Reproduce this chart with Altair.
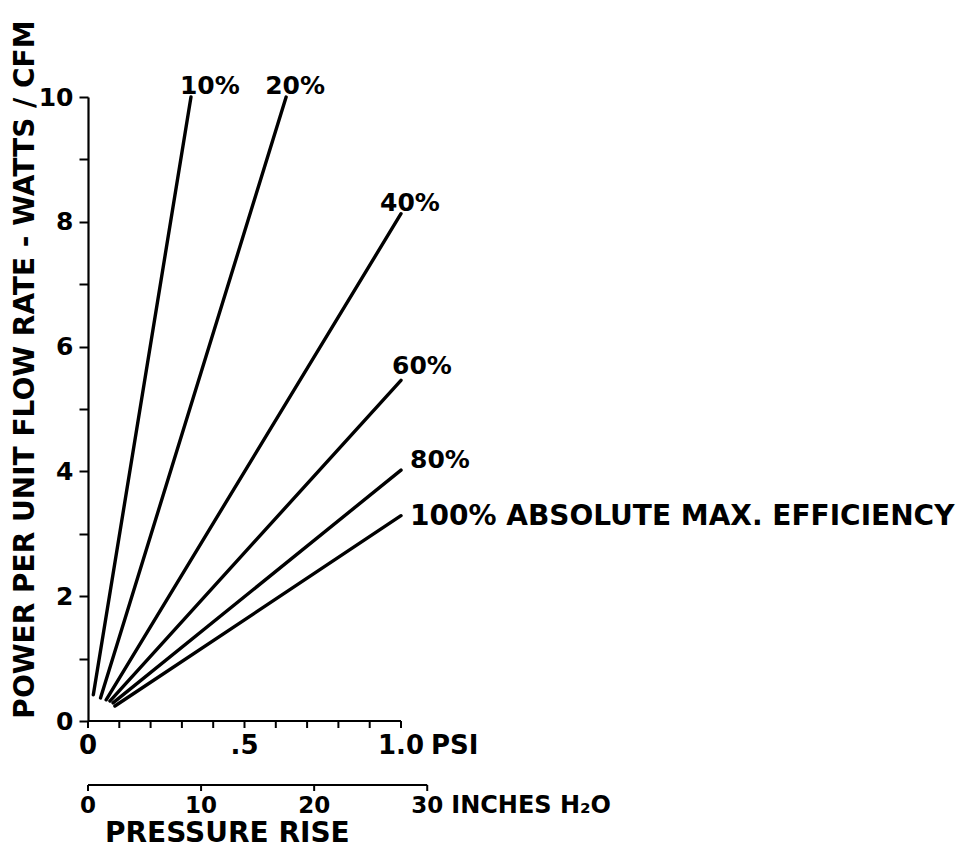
import altair as alt
import pandas as pd

# ---------------- data ----------------
efficiency = ["10%", "20%", "40%", "60%", "80%", "100%"]
start_psi = [0.017, 0.040, 0.058, 0.070, 0.080, 0.086]
start_power = [0.42, 0.37, 0.34, 0.32, 0.29, 0.24]
end_psi = [0.329, 0.633, 1.0, 1.0, 1.0, 1.0]
end_power = [10.0, 10.0, 8.13, 5.46, 4.02, 3.29]
label_text = ["10%", "20%", "40%", "60%", "80%", "100% ABSOLUTE MAX. EFFICIENCY"]

psi_ticks = [0.0, 0.1, 0.2, 0.3, 0.4, 0.5, 0.6, 0.7, 0.8, 0.9, 1.0]
psi_tick_labels = ["0", "", "", "", "", ".5", "", "", "", "", "1.0"]
inch_ticks = [0, 10, 20, 30]
inch_tick_labels = ["0", "10", "20", "30"]
power_ticks = [0, 1, 2, 3, 4, 5, 6, 7, 8, 9, 10]
INCH_H2O_PER_PSI = 27.68

FONT = "DejaVu Sans"
W, H = 313, 624

lines_df = pd.DataFrame({"eff": efficiency, "x0": start_psi, "y0": start_power,
                         "x1": end_psi, "y1": end_power, "label": label_text})
psi_df = pd.DataFrame({"psi": psi_ticks, "lab": psi_tick_labels})
inch_df = pd.DataFrame({"inch": inch_ticks, "lab": inch_tick_labels})

xs = alt.Scale(domain=[0, 1.0], nice=False, zero=False)
ys = alt.Scale(domain=[0, 10], nice=False, zero=False)
y_axis = alt.Axis(values=power_ticks, labelExpr="datum.value % 2 == 0 ? datum.label : ''",
                  grid=False, tickSize=9, tickWidth=2, tickColor="black",
                  domainColor="black", domainWidth=2.2, labelPadding=6,
                  labelFont=FONT, labelFontWeight="bold", labelFontSize=25, labelColor="black",
                  title="POWER PER UNIT FLOW RATE - WATTS / CFM",
                  titleFont=FONT, titleFontWeight="bold", titleFontSize=28, titleColor="black",
                  titleX=-63, titleY=272, titleAngle=270, titleAlign="center", titleBaseline="middle")

base = alt.Chart(lines_df)

curves = base.mark_rule(color="black", strokeWidth=3.4, strokeCap="round").encode(
    x=alt.X("x0:Q", scale=xs, axis=None), x2="x1:Q",
    y=alt.Y("y0:Q", scale=ys, axis=y_axis), y2="y1:Q")

offsets = {"10%": (-11, -3, "alphabetic", 25), "20%": (-21, -3, "alphabetic", 25),
           "40%": (-21, -3, "alphabetic", 25), "60%": (-9, -6, "alphabetic", 25),
           "80%": (9, -2, "alphabetic", 25), "100%": (9, 1, "middle", 28)}
labels = []
for eff, (dx, dy, bl, fs) in offsets.items():
    labels.append(base.transform_filter(alt.datum.eff == eff).mark_text(
        align="left", baseline=bl, dx=dx, dy=dy, font=FONT, fontWeight="bold",
        fontSize=fs, color="black").encode(
        x=alt.X("x1:Q", scale=xs, axis=None), y=alt.Y("y1:Q", scale=ys, axis=y_axis),
        text="label:N"))

# ---- PSI axis (drawn at power = 0) ----
psi_base = alt.Chart(psi_df)
psi_line = psi_base.transform_aggregate(lo="min(psi)", hi="max(psi)").mark_rule(
    color="black", strokeWidth=2.2).encode(
    x=alt.X("lo:Q", scale=xs, axis=None), x2="hi:Q", y=alt.value(H))
psi_tick = psi_base.mark_rule(color="black", strokeWidth=2).encode(
    x=alt.X("psi:Q", scale=xs, axis=None), y=alt.value(H), y2=alt.value(H + 7))
psi_lab = psi_base.mark_text(baseline="alphabetic", font=FONT, fontWeight="bold",
                             fontSize=26, color="black").encode(
    x=alt.X("psi:Q", scale=xs, axis=None), y=alt.value(H + 33), text="lab:N")
psi_unit = psi_base.transform_filter(alt.datum.psi == 1.0).mark_text(
    align="left", baseline="alphabetic", dx=30, font=FONT, fontWeight="bold",
    fontSize=26, color="black").encode(
    x=alt.X("psi:Q", scale=xs, axis=None), y=alt.value(H + 33), text=alt.value("PSI"))

# ---- inches of water axis ----
IY = 688
inch_base = alt.Chart(inch_df).transform_calculate(px=f"datum.inch / {INCH_H2O_PER_PSI}")
inch_line = inch_base.transform_aggregate(lo="min(px)", hi="max(px)").mark_rule(
    color="black", strokeWidth=2.2).encode(
    x=alt.X("lo:Q", scale=xs, axis=None), x2="hi:Q", y=alt.value(IY))
inch_tick = inch_base.mark_rule(color="black", strokeWidth=2).encode(
    x=alt.X("px:Q", scale=xs, axis=None), y=alt.value(IY), y2=alt.value(IY + 6))
inch_lab = inch_base.mark_text(baseline="alphabetic", font=FONT, fontWeight="bold",
                               fontSize=23, color="black").encode(
    x=alt.X("px:Q", scale=xs, axis=None), y=alt.value(IY + 28), text="lab:N")
inch_unit = inch_base.transform_filter(alt.datum.inch == 30).mark_text(
    align="left", baseline="alphabetic", dx=24, font=FONT, fontWeight="bold",
    fontSize=24, color="black").encode(
    x=alt.X("px:Q", scale=xs, axis=None), y=alt.value(IY + 28), text=alt.value("INCHES H₂O"))
inch_title = inch_base.transform_filter(alt.datum.inch == 0).mark_text(
    align="left", baseline="alphabetic", dx=17, font=FONT, fontWeight="bold",
    fontSize=28, color="black").encode(
    x=alt.X("px:Q", scale=xs, axis=None), y=alt.value(IY + 57), text=alt.value("PRESSURE RISE"))

chart = alt.layer(curves, *labels, psi_line, psi_tick, psi_lab, psi_unit,
                  inch_line, inch_tick, inch_lab, inch_unit, inch_title).properties(
    width=W, height=H,
    autosize=alt.AutoSizeParams(type="none"),
    padding={"left": 80, "top": 89, "right": 555, "bottom": 127},
    background="white",
).configure_view(stroke=None)

chart.save("out.html", embed_options={"renderer": "svg", "actions": False})
